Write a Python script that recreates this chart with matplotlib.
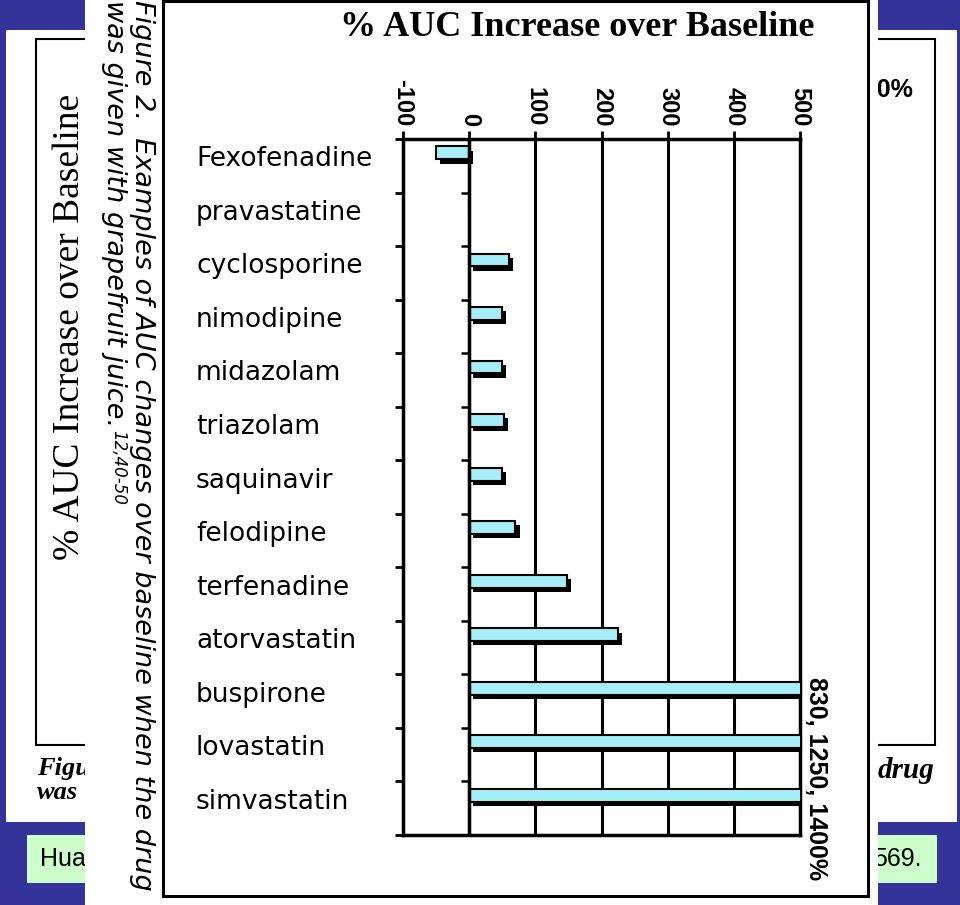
import matplotlib
matplotlib.use('Agg')
import matplotlib.pyplot as plt
import matplotlib.patheffects as pe
from matplotlib.patches import Rectangle
from matplotlib.transforms import blended_transform_factory

# data
drugs = ['Fexofenadine', 'pravastatine', 'cyclosporine', 'nimodipine', 'midazolam',
         'triazolam', 'saquinavir', 'felodipine', 'terfenadine', 'atorvastatin',
         'buspirone', 'lovastatin', 'simvastatin']
auc_change = [-50, 0, 60, 50, 50, 53, 50, 70, 148, 225, 830, 1250, 1400]
x_ticks = [-100, 0, 100, 200, 300, 400, 500]
x_labels = ['-100', '0', '100', '200', '300', '400', '500']
title = '% AUC Increase over Baseline'
off_scale_note = '830, 1250, 1400%'
caption_1 = 'Figure 2.  Examples of AUC changes over baseline when the drug'
caption_2 = 'was given with grapefruit juice.'
caption_ref = '12,40-50'

BLUE = '#333399'
GREEN = '#ccffcc'
BAR = '#a6eef8'
SERIF = 'Liberation Serif'
SANS = 'Liberation Sans'

fig = plt.figure(figsize=(9.6, 9.05), dpi=100, facecolor=BLUE)

# slide background, drawn in pixel coordinates
bg = fig.add_axes([0, 0, 1, 1])
bg.set_xlim(0, 960)
bg.set_ylim(905, 0)
bg.axis('off')

bg.add_patch(Rectangle((6, 30), 951, 792, fc='white', ec='none', zorder=1))
bg.add_patch(Rectangle((36, 39), 899, 706, fc='none', ec='black', lw=1.5, zorder=2))
bg.text(70, 327, title, rotation=90, ha='center', va='center', fontsize=27,
        family=SERIF, zorder=2)
bg.text(913, 90, '1400%', ha='right', va='center', fontsize=18,
        family=SANS, weight='bold', zorder=2)
bg.text(37, 768, 'Figure', ha='left', va='center', fontsize=19,
        family=SERIF, style='italic', weight='bold', zorder=2)
bg.text(37, 792, 'was', ha='left', va='center', fontsize=19,
        family=SERIF, style='italic', weight='bold', zorder=2)
bg.text(935, 770, 'drug', ha='right', va='center', fontsize=21,
        family=SERIF, style='italic', weight='bold', zorder=2)

bg.add_patch(Rectangle((27, 835), 910, 48, fc=GREEN, ec='none', zorder=1))
bg.text(40, 859, 'Huang', ha='left', va='center', fontsize=18, family=SANS, zorder=2)
bg.text(922, 859, '569.', ha='right', va='center', fontsize=18, family=SANS, zorder=2)

# pasted figure on top of the slide
bg.add_patch(Rectangle((85, 0), 793, 905, fc='white', ec='none', zorder=5))
bg.add_patch(Rectangle((163, 1), 705, 895, fc='none', ec='black', lw=2.2, zorder=6))
bg.text(142, 0, caption_1, rotation=-90, ha='center', va='top', fontsize=19.5,
        family='DejaVu Sans', style='italic', zorder=6)
cap2 = bg.text(114, 0, caption_2, rotation=-90, ha='center', va='top', fontsize=19.5,
               family='DejaVu Sans', style='italic', zorder=6)
fig.canvas.draw()
end_y = 905 - cap2.get_window_extent().y0
bg.text(118, end_y + 3, caption_ref, rotation=-90, ha='center', va='top', fontsize=12,
        family='DejaVu Sans', style='italic', zorder=6)
bg.text(577, 27, title, ha='center', va='center', fontsize=26, family=SERIF,
        weight='bold', zorder=6)

# the bar chart
ax = fig.add_axes([403 / 960, 1 - 835 / 905, 397 / 960, 696 / 905], zorder=10)
ax.set_xlim(-100, 500)
ax.set_ylim(len(drugs), 0)
ax.set_axisbelow(True)
ax.grid(axis='x', color='black', lw=2.2)

pos = [i + 0.26 for i in range(len(drugs))]
ax.barh(pos, auc_change, height=0.24, color=BAR, edgecolor='black', lw=1.5,
        path_effects=[pe.SimplePatchShadow(offset=(3, -3), shadow_rgbFace='black', alpha=1),
                      pe.Normal()], zorder=3)
ax.axvline(0, color='black', lw=2.5, zorder=4)
ax.hlines(range(len(drugs) + 1), -12, 0, color='black', lw=1.8, zorder=4, clip_on=False)

ax.xaxis.tick_top()
ax.set_xticks(x_ticks)
ax.set_xticklabels(x_labels, rotation=-90, fontsize=17, family=SANS, weight='bold')
ax.tick_params(axis='x', length=6, width=2, pad=3)
ax.set_yticks(range(len(drugs) + 1))
ax.set_yticklabels([])
ax.tick_params(axis='y', length=6, width=2)
for s in ax.spines.values():
    s.set_linewidth(2.5)

lab_tr = blended_transform_factory(fig.transFigure, ax.transData)
for i, d in enumerate(drugs):
    ax.text(196 / 960, i + 0.38, d, transform=lab_tr, ha='left', va='center',
            fontsize=19, family='DejaVu Sans', clip_on=False)

note_tr = blended_transform_factory(ax.transAxes, ax.transData)
ax.text(1.04, 10.05, off_scale_note, transform=note_tr, rotation=-90, ha='center',
        va='top', fontsize=18, family=SANS, weight='bold', clip_on=False)

fig.savefig('out.png', dpi=100, facecolor=BLUE)
